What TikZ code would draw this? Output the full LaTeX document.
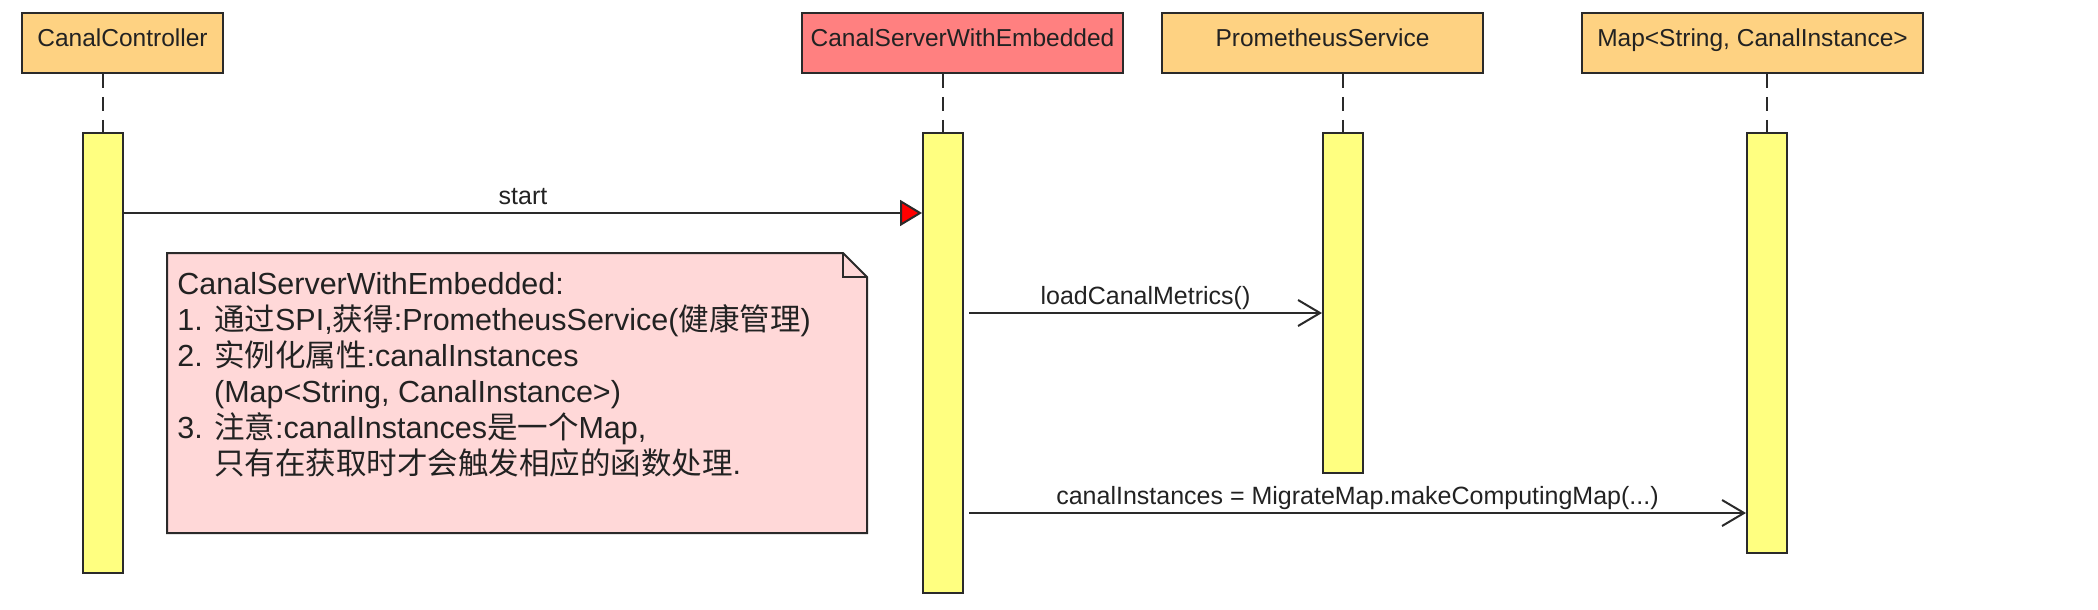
\documentclass[tikz,border=0pt]{standalone}
\usepackage{fontspec}
\setmainfont{Liberation Sans}
\newfontfamily\cjk{Noto Sans CJK SC}
\usetikzlibrary{arrows.meta}
\definecolor{hdrorange}{HTML}{FED282}
\definecolor{hdrred}{HTML}{FF8080}
\definecolor{barfill}{HTML}{FFFF80}
\definecolor{notefill}{HTML}{FFD8D8}
\definecolor{edge}{HTML}{2A2A2A}
\definecolor{txt}{HTML}{222222}
\begin{document}
\begin{tikzpicture}[x=0.5pt,y=-0.5pt,
  header/.style={draw=edge, line width=1pt, inner sep=0pt, text=txt,
    font=\fontsize{12.25pt}{14pt}\selectfont, text height=9pt, text depth=5pt,
    minimum height=30pt},
  actbar/.style={draw=edge, line width=1pt, fill=barfill, inner sep=0pt, minimum width=20pt},
  lifeline/.style={draw=edge, line width=0.8pt, dash pattern=on 7pt off 4.5pt},
  msg/.style={draw=edge, line width=1pt},
  msglabel/.style={font=\fontsize{12.5pt}{14pt}\selectfont, text=txt, anchor=base, inner sep=0pt, yshift=4.5pt},
  notetext/.style={font=\fontsize{15.25pt}{18pt}\selectfont, align=left, inner sep=0pt, text=txt},
  noteshape/.style={draw=edge, line width=1pt, fill=notefill, line join=miter}
]
\useasboundingbox (0,0) rectangle (2098,610);

% headers
\node[header, fill=hdrorange, minimum width=100.5pt] (h1) at (122.5,43) {CanalController};
\node[header, fill=hdrred, minimum width=160.5pt] (h2) at (962.5,43) {CanalServerWithEmbedded};
\node[header, fill=hdrorange, minimum width=160.5pt] (h3) at (1322.5,43) {PrometheusService};
\node[header, fill=hdrorange, minimum width=170.5pt] (h4) at (1752.5,43) {Map<String, CanalInstance>};

% activation bars
\node[actbar, minimum height=220pt] (bar1) at (103,353) {};
\node[actbar, minimum height=230pt] (bar2) at (943,363) {};
\node[actbar, minimum height=170pt] (bar3) at (1343,303) {};
\node[actbar, minimum height=210pt] (bar4) at (1767,343) {};

% lifelines
\draw[lifeline] (bar1.north |- h1.south) -- (bar1.north);
\draw[lifeline] (bar2.north |- h2.south) -- (bar2.north);
\draw[lifeline] (bar3.north |- h3.south) -- (bar3.north);
\draw[lifeline] (bar4.north |- h4.south) -- (bar4.north);

% message rows
\coordinate (y1) at (0,213);
\coordinate (y2) at (0,313);
\coordinate (y3) at (0,513);
\coordinate (s2) at ([xshift=2.5pt]bar2.east);

\draw[msg, -{Triangle[length=11pt,width=13pt,fill=red]}]
  (bar1.east |- y1) -- node[msglabel] {start} (bar2.west |- y1);
\draw[msg, -{Straight Barb[length=11pt,width=13pt]}]
  (s2 |- y2) -- node[msglabel] {loadCanalMetrics()} (bar3.west |- y2);
\draw[msg, -{Straight Barb[length=11pt,width=13pt]}]
  (s2 |- y3) -- node[msglabel] {canalInstances = MigrateMap.makeComputingMap(...)} (bar4.west |- y3);

% note
\draw[noteshape] (167,253) -- (843,253) -- (867,277) -- (867,533) -- (167,533) -- cycle;
\draw[draw=edge, line width=1pt] (843,253) -- (843,277) -- (867,277);
\node[notetext, anchor=north west] (notebody) at (177,272)
  {CanalServerWithEmbedded:\\
   1. {\cjk 通过}SPI,{\cjk 获得}:PrometheusService({\cjk 健康管理})\\
   2. {\cjk 实例化属性}:canalInstances\\
   \hphantom{2. }(Map<String, CanalInstance>)\\
   3. {\cjk 注意}:canalInstances{\cjk 是一个}Map,\\
   \hphantom{2. }{\cjk 只有在获取时才会触发相应的函数处理}.};
\end{tikzpicture}
\end{document}
